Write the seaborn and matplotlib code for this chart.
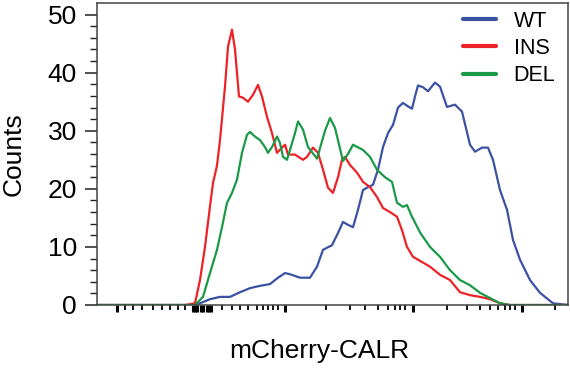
import numpy as np
import pandas as pd
import matplotlib
matplotlib.use("Agg")
import matplotlib.pyplot as plt
import seaborn as sns

# display-channel positions (linear display scale of a biexponential axis) and counts
wt_x = [0, 93, 103, 113, 123, 133, 143, 153, 163, 173, 181, 188, 193, 203, 213,
        220, 226, 235, 241, 246, 251, 256, 261, 266, 271, 276, 281, 286, 291, 296,
        301, 306, 311, 315, 318, 321, 326, 331, 338, 343, 350, 358, 365, 373, 378,
        385, 391, 396, 403, 410, 416, 423, 433, 443, 456, 471]
wt_y = [0, 0, 0.3, 1, 1.4, 1.4, 2.2, 2.9, 3.3, 3.6, 4.7, 5.5, 5.3, 4.7, 4.7,
        6.6, 9.5, 10.3, 12.4, 14.3, 13.8, 13.4, 16.4, 19.8, 20.3, 20.7, 23.3, 27.2, 29.6, 31,
        34, 34.8, 34.2, 33.8, 35.9, 37.8, 37.5, 36.8, 38.3, 37.6, 34.1, 34.5, 33.3, 27.6, 26.4,
        27.1, 27.1, 25, 19.8, 16.4, 11.2, 7.8, 4.3, 2.1, 0.3, 0]

ins_x = [0, 88, 98, 103, 108, 113, 116, 120, 123, 128, 131, 135, 138, 142, 146,
         151, 156, 161, 165, 170, 175, 180, 185, 188, 191, 198, 206, 210, 216, 221,
         226, 231, 236, 241, 245, 248, 253, 260, 266, 273, 280, 286, 293, 300, 305,
         310, 316, 323, 333, 343, 353, 363, 373, 383, 393, 403, 413, 471]
ins_y = [0, 0, 0.3, 4.3, 10, 17, 21, 24, 28.4, 37.6, 44.5, 47.4, 44, 35.9, 35.7,
         35, 36.2, 37.9, 35.9, 32.4, 29.6, 26.2, 27.1, 27.6, 25.9, 25.9, 25, 25.5, 27.1, 26.2,
         23.3, 20.2, 19.3, 22, 25, 25.5, 24.1, 22.8, 21.2, 20.3, 18.6, 16.7, 16, 15.2, 12.9,
         10, 8.3, 7.6, 6.6, 5.2, 4.3, 2.2, 1.7, 1.4, 1, 0.3, 0, 0]

del_x = [0, 98, 106, 113, 120, 125, 130, 135, 140, 145, 150, 153, 158, 163, 168,
         171, 175, 180, 183, 186, 190, 193, 198, 201, 206, 211, 220, 228, 233, 238,
         246, 251, 256, 266, 273, 280, 288, 295, 300, 306, 310, 315, 323, 333, 343,
         353, 363, 373, 383, 393, 403, 413, 471]
del_y = [0, 0, 1.4, 5.5, 9.5, 13.4, 17.6, 19.3, 21.6, 26.2, 29.3, 29.8, 29, 28.4, 27.2,
         26.2, 27.2, 29, 27.9, 25.5, 25, 26.7, 29.6, 31.6, 30.2, 27.2, 25.2, 30, 32.2, 30.5,
         24.8, 26, 27.6, 26.7, 25.5, 23.3, 22, 21.2, 17.6, 16.9, 17.2, 15.2, 12.5, 10, 8.3,
         6, 4.3, 3.4, 2.1, 1.2, 0.3, 0, 0]

series_names = ["WT", "INS", "DEL"]
colors = ["#3b52a3", "#ec2227", "#1a9a47"]

# x-axis tick positions (decade marks of the biexponential display)
x_major = [20, 188, 316, 425]
x_zero_cluster = [96, 98, 100, 104, 106, 110, 112, 114]
x_minor = [28, 36, 45, 56, 65, 73, 81, 88,
           125, 135, 143, 151, 160, 166, 171, 176, 181,
           229, 253, 268, 281, 291, 298, 303, 308,
           350, 370, 383, 393, 401, 408, 413, 418, 458]
y_major = [0, 10, 20, 30, 40, 50]

df = pd.concat([
    pd.DataFrame({"channel": wt_x, "Counts": wt_y, "sample": "WT"}),
    pd.DataFrame({"channel": ins_x, "Counts": ins_y, "sample": "INS"}),
    pd.DataFrame({"channel": del_x, "Counts": del_y, "sample": "DEL"}),
], ignore_index=True)

sns.set_style("ticks")
plt.rcParams["font.family"] = ["Liberation Sans", "DejaVu Sans"]
plt.rcParams["text.color"] = "black"
plt.rcParams["axes.labelcolor"] = "black"
plt.rcParams["ytick.labelcolor"] = "black"

fig = plt.figure(figsize=(5.7, 3.69), dpi=100)
ax = fig.add_axes([97 / 570, 1 - 305 / 369, 471 / 570, 302 / 369])

sns.lineplot(data=df, x="channel", y="Counts", hue="sample", hue_order=series_names,
             palette=colors, estimator=None, sort=False, linewidth=1.6, ax=ax)

ax.set_xlim(0, 471)
ax.set_ylim(0, 52)

ax.set_xticks(x_major + x_zero_cluster)
ax.set_xticks(x_minor, minor=True)
ax.set_xticklabels([])
ax.set_yticks(y_major)
ax.set_yticks(np.arange(0, 52, 2), minor=True)
ax.tick_params(axis="x", which="major", length=5, width=2.2, color="black", direction="out")
ax.tick_params(axis="x", which="minor", length=3.5, width=1.3, color="black", direction="out")
ax.tick_params(axis="y", which="major", length=8.5, width=1.1, color="#222222",
               labelsize=19, pad=6, labelcolor="black")
ax.tick_params(axis="y", which="minor", length=5, width=1.0, color="#222222")

for s in ax.spines.values():
    s.set_color("#444444")
    s.set_linewidth(1.1)

ax.set_xlabel("mCherry-CALR", fontsize=19, color="black")
ax.xaxis.set_label_coords(0.471, -0.112)
ax.set_ylabel("Counts", fontsize=19, color="black")
ax.yaxis.set_label_coords(-0.152, 0.5)

leg = ax.legend(loc="upper left", bbox_to_anchor=(0.777, 0.975), frameon=False,
                fontsize=15.5, handlelength=1.55, handletextpad=0.8,
                labelspacing=0.3, borderpad=0, borderaxespad=0)
for line in leg.get_lines():
    line.set_linewidth(3)
for t in leg.get_texts():
    t.set_color("black")

fig.savefig("out.png", dpi=100)
